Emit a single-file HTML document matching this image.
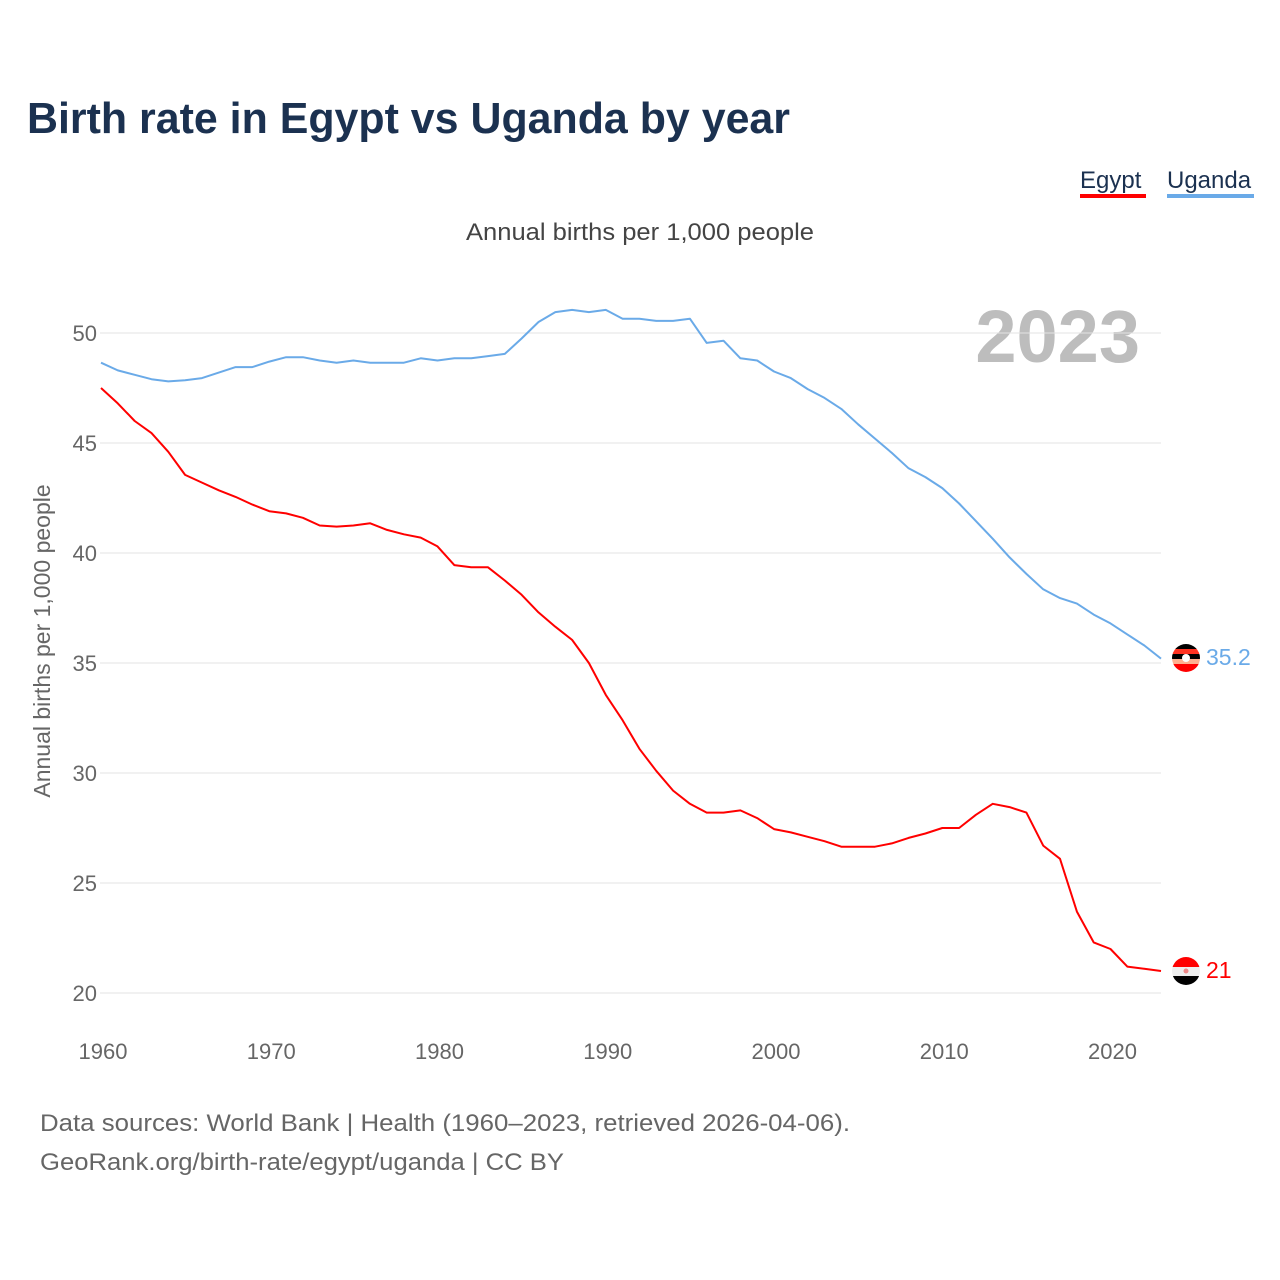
<!DOCTYPE html>
<html><head><meta charset="utf-8"><style>
body{margin:0;background:#fff;}
svg{display:block;font-family:"Liberation Sans",sans-serif;}
</style></head><body>
<svg id="chart" width="1280" height="1280" viewBox="0 0 1280 1280">
<defs>
<clipPath id="cu"><circle cx="1186" cy="658" r="14"/></clipPath>
<clipPath id="ce"><circle cx="1186" cy="971" r="14"/></clipPath>
</defs>
<text x="27" y="133" font-size="44" font-weight="bold" fill="#1b3150" textLength="763" lengthAdjust="spacingAndGlyphs">Birth rate in Egypt vs Uganda by year</text>
<g>
<text x="1080" y="188" font-size="24" fill="#1b3150">Egypt</text>
<rect x="1080" y="194" width="66" height="4" fill="#ff0000"/>
</g>
<g>
<text x="1167" y="188" font-size="24" fill="#1b3150">Uganda</text>
<rect x="1167" y="194" width="87" height="4" fill="#6aaae8"/>
</g>
<text x="466" y="240" font-size="24" fill="#444" textLength="348" lengthAdjust="spacingAndGlyphs">Annual births per 1,000 people</text>
<text transform="translate(50,641) rotate(-90)" font-size="23" fill="#666" text-anchor="middle">Annual births per 1,000 people</text>
<text x="1140" y="362" font-size="74" font-weight="bold" fill="#bdbdbd" text-anchor="end">2023</text>
<g id="grid"></g>
<g id="lines"></g>
<g clip-path="url(#cu)">
<rect x="1172" y="644" width="28" height="5" fill="#000"/>
<rect x="1172" y="649" width="28" height="5" fill="#ff3322"/>
<rect x="1172" y="654" width="28" height="5" fill="#000"/>
<rect x="1172" y="659" width="28" height="5" fill="#ffb090"/>
<rect x="1172" y="664" width="28" height="8" fill="#ff0000"/>
<circle cx="1186" cy="658" r="4" fill="#fff"/>
</g>
<g clip-path="url(#ce)">
<rect x="1172" y="957" width="28" height="10" fill="#ff0000"/>
<rect x="1172" y="967" width="28" height="9" fill="#eee"/>
<rect x="1172" y="976" width="28" height="10" fill="#000"/>
<circle cx="1186" cy="971" r="2.5" fill="#e88"/>
</g>
<text x="1206" y="665" font-size="23" fill="#6aaae8">35.2</text>
<text x="1206" y="978" font-size="23" fill="#ff0000">21</text>
<text x="40" y="1131" font-size="24" fill="#666" textLength="810" lengthAdjust="spacingAndGlyphs">Data sources: World Bank | Health (1960–2023, retrieved 2026-04-06).</text>
<text x="40" y="1170" font-size="24" fill="#666" textLength="524" lengthAdjust="spacingAndGlyphs">GeoRank.org/birth-rate/egypt/uganda | CC BY</text>
</svg>
<script>
const years = [];
for (let y = 1960; y <= 2023; y++) years.push(y);
const egypt = [47.5,46.8,46.0,45.45,44.6,43.55,43.2,42.85,42.55,42.2,41.9,41.8,41.6,41.25,41.2,41.25,41.35,41.05,40.85,40.7,40.3,39.45,39.35,39.35,38.75,38.1,37.3,36.65,36.05,35.0,33.55,32.4,31.1,30.1,29.2,28.6,28.2,28.2,28.3,27.95,27.45,27.3,27.1,26.9,26.65,26.65,26.65,26.8,27.05,27.25,27.5,27.5,28.1,28.6,28.45,28.2,26.7,26.1,23.7,22.3,22.0,21.2,21.1,21.0];
const uganda = [48.65,48.3,48.1,47.9,47.8,47.85,47.95,48.2,48.45,48.45,48.7,48.9,48.9,48.75,48.65,48.75,48.65,48.65,48.65,48.85,48.75,48.85,48.85,48.95,49.05,49.75,50.5,50.95,51.05,50.95,51.05,50.65,50.65,50.55,50.55,50.65,49.55,49.65,48.85,48.75,48.25,47.95,47.45,47.05,46.55,45.85,45.2,44.55,43.85,43.45,42.95,42.25,41.45,40.65,39.8,39.05,38.35,37.95,37.7,37.2,36.8,36.3,35.8,35.2];
const yTicks = [20,25,30,35,40,45,50];
const xTicks = [1960,1970,1980,1990,2000,2010,2020];
const NS = 'http://www.w3.org/2000/svg';
const xS = v => 101 + (v - 1960) * (1060 / 63);
const yS = v => 993 - (v - 20) * 22;
const grid = document.getElementById('grid');
yTicks.forEach(t => {
  const l = document.createElementNS(NS, 'line');
  
  
  l.setAttribute('x1', 100); l.setAttribute('x2', 1161);
  l.setAttribute('y1', yS(t)); l.setAttribute('y2', yS(t));
  l.setAttribute('stroke', '#e3e3e3'); l.setAttribute('stroke-width', 1);
  grid.appendChild(l);
  const tx = document.createElementNS(NS, 'text');
  
  
  tx.setAttribute('x', 97); tx.setAttribute('y', yS(t) + 8);
  tx.setAttribute('text-anchor', 'end'); tx.setAttribute('font-size', 22); tx.setAttribute('fill', '#666');
  tx.textContent = t;
  grid.appendChild(tx);
});
xTicks.forEach(t => {
  const tx = document.createElementNS(NS, 'text');
  
  
  tx.setAttribute('x', xS(t) + 2); tx.setAttribute('y', 1059);
  tx.setAttribute('text-anchor', 'middle'); tx.setAttribute('font-size', 22); tx.setAttribute('fill', '#666');
  tx.textContent = t;
  grid.appendChild(tx);
});
const lines = document.getElementById('lines');
function drawLine(vals, color, name) {
  const p = document.createElementNS(NS, 'path');
  
  
  p.setAttribute('d', vals.map((v, i) => (i ? 'L' : 'M') + xS(years[i]).toFixed(1) + ',' + yS(v).toFixed(1)).join(''));
  p.setAttribute('fill', 'none'); p.setAttribute('stroke', color); p.setAttribute('stroke-width', 2);
  p.setAttribute('stroke-linejoin', 'round');
  lines.appendChild(p);
}
drawLine(uganda, '#6aaae8', 'uganda-line');
drawLine(egypt, '#ff0000', 'egypt-line');
</script>
</body></html>
